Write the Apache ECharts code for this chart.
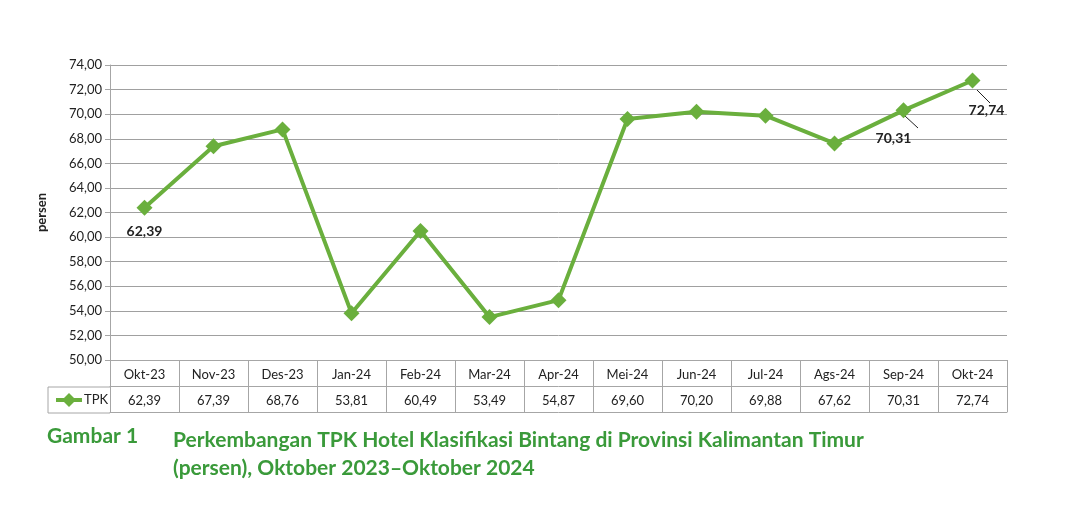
<!DOCTYPE html>
<html><head><meta charset="utf-8">
<script src="https://cdn.jsdelivr.net/npm/echarts@6/dist/echarts.min.js"></script>
<style>body{margin:0;background:#fff}#c{width:1080px;height:506px}</style></head>
<body><div id="c"></div>
<script>
const categories=['Okt-23','Nov-23','Des-23','Jan-24','Feb-24','Mar-24','Apr-24','Mei-24','Jun-24','Jul-24','Ags-24','Sep-24','Okt-24'];
const tpk=[62.39,67.39,68.76,53.81,60.49,53.49,54.87,69.60,70.20,69.88,67.62,70.31,72.74];
const seriesName='TPK';
const fmt=v=>v.toFixed(2).replace('.',',');
const green='#6aaf3d';
const labeled={0:{position:'bottom',offset:[0,4]},11:{position:'bottom',offset:[-10,8]},12:{position:'bottom',offset:[14,10]}};
const data=tpk.map((v,i)=>labeled[i]?{value:v,label:Object.assign({show:true,formatter:p=>fmt(p.value),fontWeight:'bold',fontSize:14,color:'#222',fontFamily:'Liberation Sans Narrow, Lato'},labeled[i])}:v);
const chart=echarts.init(document.getElementById('c'));
const lc='#a6a6a6';
chart.setOption({
 animation:false,
 grid:{left:110,right:73,top:65,bottom:146},
 xAxis:[
  {type:'category',data:categories,boundaryGap:true,axisLine:{lineStyle:{color:lc}},axisTick:{show:true,length:52,lineStyle:{color:lc}},axisLabel:{color:'#222',fontSize:13,fontFamily:'Lato',margin:8}},
  {type:'category',data:tpk.map(fmt),position:'bottom',offset:26,boundaryGap:true,axisLine:{lineStyle:{color:lc}},axisTick:{show:false},axisLabel:{color:'#222',fontSize:13,fontFamily:'Lato',margin:8}},
  {type:'category',data:categories,position:'bottom',offset:52,axisLine:{lineStyle:{color:lc}},axisTick:{show:false},axisLabel:{show:false}}
 ],
 yAxis:{type:'value',min:50,max:74,interval:2,name:'persen',nameLocation:'middle',nameGap:62,nameTextStyle:{fontWeight:'bold',fontSize:13,color:'#222',fontFamily:'Lato'},
  axisLine:{show:true,lineStyle:{color:lc}},axisTick:{show:true,lineStyle:{color:lc}},splitLine:{lineStyle:{color:'#a0a0a0'}},
  axisLabel:{formatter:v=>fmt(v),color:'#222',fontSize:13,fontFamily:'Lato'}},
 series:[{name:seriesName,type:'line',data:data,symbol:'diamond',symbolSize:16,lineStyle:{color:green,width:4},itemStyle:{color:green},label:{show:false}}],
 graphic:[
  {type:'line',shape:{x1:48,y1:387,x2:110,y2:387},style:{stroke:lc}},
  {type:'line',shape:{x1:48,y1:413,x2:110,y2:413},style:{stroke:lc}},
  {type:'line',shape:{x1:48,y1:387,x2:48,y2:413},style:{stroke:lc}},
  {type:'line',shape:{x1:56,y1:400,x2:82,y2:400},style:{stroke:green,lineWidth:4}},
  {type:'polygon',shape:{points:[[69,393],[76,400],[69,407],[62,400]]},style:{fill:green}},
  {type:'text',x:84,y:393,style:{text:seriesName,fontSize:13,fill:'#222',fontFamily:'Lato'}},
  {type:'line',shape:{x1:977,y1:90,x2:990,y2:103},style:{stroke:'#222'}},
  {type:'line',shape:{x1:905,y1:116,x2:918,y2:128},style:{stroke:'#222'}},
  {type:'text',x:47,y:426,style:{text:'Gambar 1',fontSize:21,fontWeight:'bold',fill:'#3a9a3a',fontFamily:'Lato'}},
  {type:'text',x:173,y:426,style:{text:'Perkembangan TPK Hotel Klasifikasi Bintang di Provinsi Kalimantan Timur\n(persen), Oktober 2023–Oktober 2024',fontSize:21,lineHeight:28,fontWeight:'bold',fill:'#3a9a3a',fontFamily:'Lato'}}
 ]
});
</script></body></html>
